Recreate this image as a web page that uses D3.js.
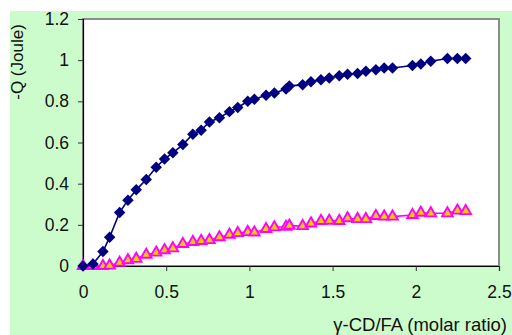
<!DOCTYPE html>
<html>
<head>
<meta charset="utf-8">
<script src="https://cdn.jsdelivr.net/npm/d3@7"></script>
<style>
  body { margin: 0; background: #fff; }
  svg { display: block; font-family: Arial, "Liberation Sans", sans-serif; }
</style>
</head>
<body>
<svg id="chart"></svg>
<script>
// ---------------- DATA ----------------
// molar ratio gamma-CD / FA (injections)
const ratio = [0, 0.06, 0.12, 0.16, 0.22, 0.27, 0.32, 0.38, 0.44, 0.49, 0.54, 0.60, 0.66, 0.71,
  0.76, 0.82, 0.88, 0.93, 0.99, 1.03, 1.10, 1.15, 1.22, 1.24, 1.32, 1.37, 1.43, 1.48, 1.54,
  1.59, 1.65, 1.70, 1.76, 1.81, 1.86, 1.98, 2.03, 2.09, 2.19, 2.25, 2.30];

// -Q (Joule), upper series (blue diamonds)
const heatBlue = [0, 0.01, 0.07, 0.14, 0.26, 0.32, 0.37, 0.42, 0.48, 0.52, 0.55, 0.59, 0.64, 0.66,
  0.70, 0.72, 0.75, 0.77, 0.80, 0.81, 0.83, 0.84, 0.86, 0.875, 0.88, 0.895, 0.905, 0.913, 0.924,
  0.932, 0.935, 0.946, 0.954, 0.962, 0.962, 0.974, 0.981, 0.995, 1.008, 1.008, 1.008];

// -Q (Joule), lower series (pink triangles)
const heatPink = [0, 0, 0, 0.002, 0.016, 0.028, 0.035, 0.055, 0.065, 0.077, 0.086, 0.107, 0.117, 0.122,
  0.126, 0.14, 0.152, 0.16, 0.165, 0.163, 0.18, 0.188, 0.191, 0.196, 0.194, 0.207, 0.219, 0.22, 0.219,
  0.232, 0.228, 0.228, 0.243, 0.24, 0.24, 0.248, 0.259, 0.256, 0.256, 0.269, 0.267];

const xTicks = [0, 0.5, 1, 1.5, 2, 2.5];
const yTicks = [0, 0.2, 0.4, 0.6, 0.8, 1, 1.2];

// ---------------- LAYOUT ----------------
const width = 512;
const height = 335;
const plot = { left: 83, top: 19, right: 499, bottom: 266 };

const svg = d3.select('#chart').attr('width', width).attr('height', height);

// green chart area
svg.append('rect')
  .attr('x', 10).attr('y', 11)
  .attr('width', width - 10).attr('height', height - 11)
  .attr('fill', '#ccfccc');

const x = d3.scaleLinear().domain([0, 2.5]).range([plot.left, plot.right]);
const y = d3.scaleLinear().domain([0, 1.2]).range([plot.bottom, plot.top]);

// plot area
svg.append('rect')
  .attr('x', plot.left).attr('y', plot.top)
  .attr('width', plot.right - plot.left).attr('height', plot.bottom - plot.top)
  .attr('fill', '#fff')
  .attr('stroke', '#8c8c8c')
  .attr('stroke-width', 2);

// axes
const xAxis = d3.axisBottom(x).tickValues(xTicks).tickSize(5).tickPadding(15)
  .tickFormat(d3.format('~g'));
const yAxis = d3.axisLeft(y).tickValues(yTicks).tickSize(5).tickPadding(9)
  .tickFormat(d3.format('~g'));

const gx = svg.append('g').attr('transform', `translate(0,${plot.bottom})`).call(xAxis);
const gy = svg.append('g').attr('transform', `translate(${plot.left},0)`).call(yAxis);

[gx, gy].forEach((g) => {
  g.select('.domain').attr('stroke', '#000').attr('stroke-width', 1.2);
  g.selectAll('.tick line').attr('stroke', '#333');
  g.selectAll('.tick text')
    .attr('fill', '#111')
    .style('font-size', '17.5px')
    .style('font-family', 'Arial, "Liberation Sans", sans-serif');
});

// axis titles
svg.append('text')
  .attr('transform', 'translate(23,62) rotate(-90)')
  .attr('text-anchor', 'middle')
  .style('font-size', '17px')
  .attr('fill', '#111')
  .text('-Q (Joule)');

svg.append('text')
  .attr('x', 507).attr('y', 331)
  .attr('text-anchor', 'end')
  .style('font-size', '18.5px')
  .attr('fill', '#111')
  .text('γ-CD/FA (molar ratio)');

// ---------------- SERIES ----------------
const blue = ratio.map((r, i) => ({ x: r, y: heatBlue[i] }));
const pink = ratio.map((r, i) => ({ x: r, y: heatPink[i] }));

const line = d3.line().x((d) => x(d.x)).y((d) => y(d.y));

svg.append('path').datum(pink)
  .attr('d', line).attr('fill', 'none')
  .attr('stroke', '#ff00ff').attr('stroke-width', 1.6);

svg.append('g').selectAll('path')
  .data(pink)
  .join('path')
  .attr('transform', (d) => `translate(${x(d.x)},${y(d.y)})`)
  .attr('d', d3.symbol().type(d3.symbolTriangle).size(48))
  .attr('fill', '#ffcc00')
  .attr('stroke', '#ff00ff')
  .attr('stroke-width', 1.9);

svg.append('path').datum(blue)
  .attr('d', line).attr('fill', 'none')
  .attr('stroke', '#000080').attr('stroke-width', 1.6);

svg.append('g').selectAll('path')
  .data(blue)
  .join('path')
  .attr('transform', (d) => `translate(${x(d.x)},${y(d.y)}) rotate(45)`)
  .attr('d', d3.symbol().type(d3.symbolSquare).size(66))
  .attr('fill', '#000080');
</script>
</body>
</html>
